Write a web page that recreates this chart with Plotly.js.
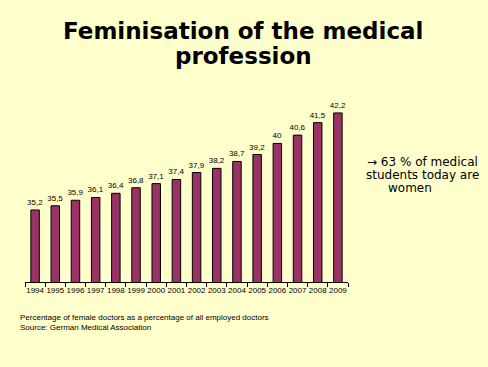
<!DOCTYPE html>
<html>
<head>
<meta charset="utf-8">
<script src="https://cdn.plot.ly/plotly-3.0.1.min.js"></script>
<style>
html,body{margin:0;padding:0;background:#FFFFCC;}
#chart{width:488px;height:367px;}
</style>
</head>
<body>
<div id="chart"></div>
<script>
var years = ["1994","1995","1996","1997","1998","1999","2000","2001","2002","2003","2004","2005","2006","2007","2008","2009"];
var shares = [35.2,35.5,35.9,36.1,36.4,36.8,37.1,37.4,37.9,38.2,38.7,39.2,40,40.6,41.5,42.2];
var labels = shares.map(function(v){return String(v).replace('.', ',');});
var titleLines = ['Feminisation of the medical', 'profession'];
var noteLines = ['→ 63 % of medical', 'students today are', 'women'];
var footLines = ['Percentage of female doctors as a percentage of all employed doctors', 'Source: German Medical Association'];

var trace = {
  type: 'bar',
  x: years,
  y: shares,
  text: labels,
  textposition: 'outside',
  constraintext: 'none',
  cliponaxis: false,
  textfont: {family: 'Arial, Liberation Sans, sans-serif', size: 8, color: '#000'},
  marker: {color: '#993366', line: {color: '#000', width: 1}},
  hoverinfo: 'none'
};

// plot area: x 25..348 px, y 88..282 px
function py(p){ return (282 - p) / 194; }
function px(p){ return (p - 25) / 323; }

var ann = [];
var titleY = [31, 56];
titleLines.forEach(function(t, i){
  ann.push({text: '<b>' + t + '</b>', xref: 'paper', yref: 'paper', x: px(243), y: py(titleY[i]),
    xanchor: 'center', yanchor: 'middle', showarrow: false,
    font: {family: 'DejaVu Sans, Arial, sans-serif', size: 23, color: '#000'}});
});
var noteY = [162, 175, 188];
var noteX = [422, 422, 410];
noteLines.forEach(function(t, i){
  ann.push({text: t, xref: 'paper', yref: 'paper', x: px(noteX[i]), y: py(noteY[i]),
    xanchor: 'center', yanchor: 'middle', showarrow: false,
    font: {family: 'DejaVu Sans, Arial, sans-serif', size: 12, color: '#000'}});
});
var footY = [317, 327];
footLines.forEach(function(t, i){
  ann.push({text: t, xref: 'paper', yref: 'paper', x: px(18), y: py(footY[i]),
    xanchor: 'left', yanchor: 'middle', showarrow: false,
    font: {family: 'Arial, Liberation Sans, sans-serif', size: 8, color: '#000'}});
});

var layout = {
  width: 488, height: 367,
  paper_bgcolor: '#FFFFCC', plot_bgcolor: '#FFFFCC',
  margin: {l: 25, r: 140, t: 88, b: 85},
  bargap: 0.58,
  showlegend: false,
  font: {family: 'Arial, Liberation Sans, sans-serif', color: '#000'},
  xaxis: {
    type: 'category',
    showline: true, linecolor: '#000', linewidth: 1,
    ticks: 'outside', tickson: 'boundaries', ticklen: 4, tickcolor: '#000',
    tickangle: 0,
    tickfont: {size: 8, color: '#000'},
    showgrid: false, zeroline: false, fixedrange: true
  },
  yaxis: {
    range: [30, 44],
    visible: false, showgrid: false, zeroline: false, fixedrange: true
  },
  annotations: ann
};

Plotly.newPlot('chart', [trace], layout, {displayModeBar: false, staticPlot: true});
</script>
</body>
</html>
